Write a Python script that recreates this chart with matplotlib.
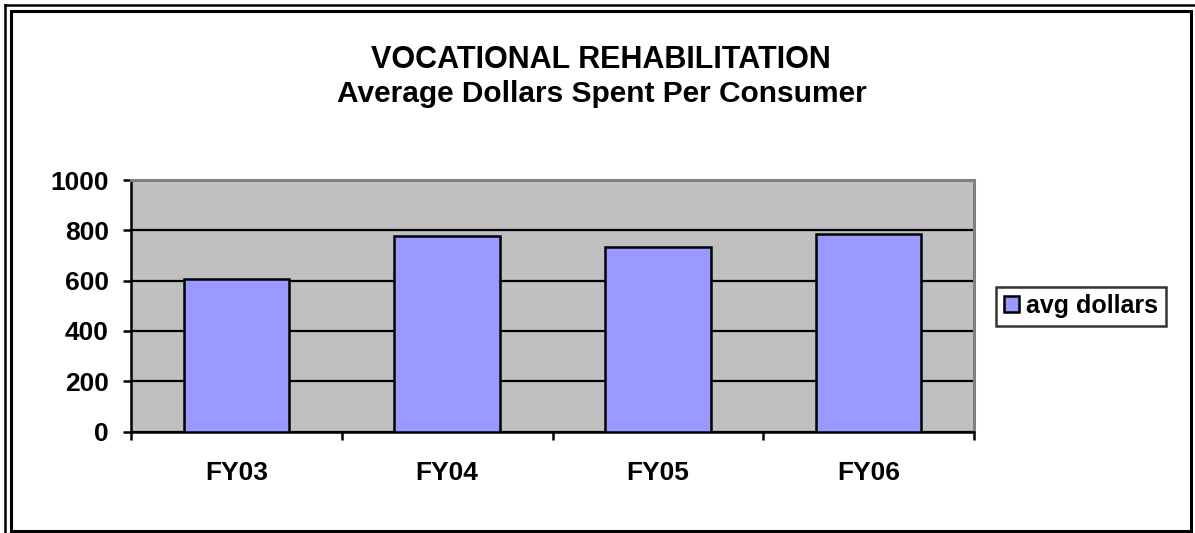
import matplotlib
matplotlib.use("Agg")
import matplotlib.pyplot as plt
from matplotlib.lines import Line2D
from matplotlib.patches import Rectangle

categories = ["FY03", "FY04", "FY05", "FY06"]
avg_dollars = [605, 779, 735, 784]
series_name = "avg dollars"
yticks = [0, 200, 400, 600, 800, 1000]
title_lines = ["VOCATIONAL REHABILITATION", "Average Dollars Spent Per Consumer"]

plt.rcParams['font.family'] = ['Liberation Sans', 'DejaVu Sans']
plt.rcParams['font.weight'] = 'bold'

W, H = 1195, 533
fig = plt.figure(figsize=(W / 100, H / 100), dpi=100)
fig.patch.set_facecolor('white')

def fx(px):
    return px / W

def fy(py):
    return 1 - py / H

ax = fig.add_axes([fx(131), fy(431.5), fx(974) - fx(131), fy(180) - fy(431.5)])
ax.set_facecolor('#C0C0C0')

x = list(range(len(categories)))
ax.bar(x, avg_dollars, width=0.5, color='#9999FF', edgecolor='black',
       linewidth=1.8, label=series_name, zorder=3)

ax.set_xlim(-0.5, len(categories) - 0.5)
ax.set_ylim(0, 1000)
ax.set_yticks(yticks)
ax.set_yticklabels([str(v) for v in yticks], fontsize=19, fontweight='bold')
ax.yaxis.grid(True, color='black', linewidth=1.6, zorder=1)
ax.set_axisbelow(True)

# category boundary ticks
ax.set_xticks([i - 0.5 for i in range(len(categories) + 1)])
ax.set_xticklabels([])
ax.set_xticks(x, minor=True)
ax.set_xticklabels(categories, minor=True, fontsize=19, fontweight='bold')
ax.tick_params(axis='x', which='major', direction='out', length=6, width=1.8, color='black')
ax.tick_params(axis='x', which='minor', length=0, pad=21)
ax.tick_params(axis='y', direction='out', length=6, width=1.8, color='black', pad=10)

for s in ['left', 'bottom']:
    ax.spines[s].set_color('black')
    ax.spines[s].set_linewidth(1.8)
for s in ['top', 'right']:
    ax.spines[s].set_color('#808080')
    ax.spines[s].set_linewidth(2.2)

fig.text(fx(601), fy(68.5), title_lines[0], ha='center', va='baseline', fontsize=22, fontweight='bold')
fig.text(fx(601.5), fy(102.5), title_lines[1], ha='center', va='baseline', fontsize=21.5, fontweight='bold')

leg = fig.legend(loc='center left', bbox_to_anchor=(fx(996), fy(306)),
                 fontsize=18, frameon=True, fancybox=False, shadow=False,
                 handlelength=0.6, handleheight=0.6, handletextpad=0.3,
                 borderpad=0.3, borderaxespad=0)
leg.get_frame().set_edgecolor('black')
leg.get_frame().set_linewidth(1.8)
for t in leg.get_texts():
    t.set_fontweight('bold')

# outer frame lines (left and top)
fig.add_artist(Line2D([fx(5), fx(5)], [fy(5), 0], transform=fig.transFigure, color='black', linewidth=1.8))
fig.add_artist(Line2D([fx(5), 1], [fy(5), fy(5)], transform=fig.transFigure, color='black', linewidth=1.8))
# inner frame rectangle
fig.add_artist(Rectangle((fx(10.5), fy(531)), fx(1190.5) - fx(10.5), fy(10.5) - fy(531),
                         transform=fig.transFigure, fill=False, edgecolor='black', linewidth=2.2))

fig.savefig('out.png', dpi=100)
